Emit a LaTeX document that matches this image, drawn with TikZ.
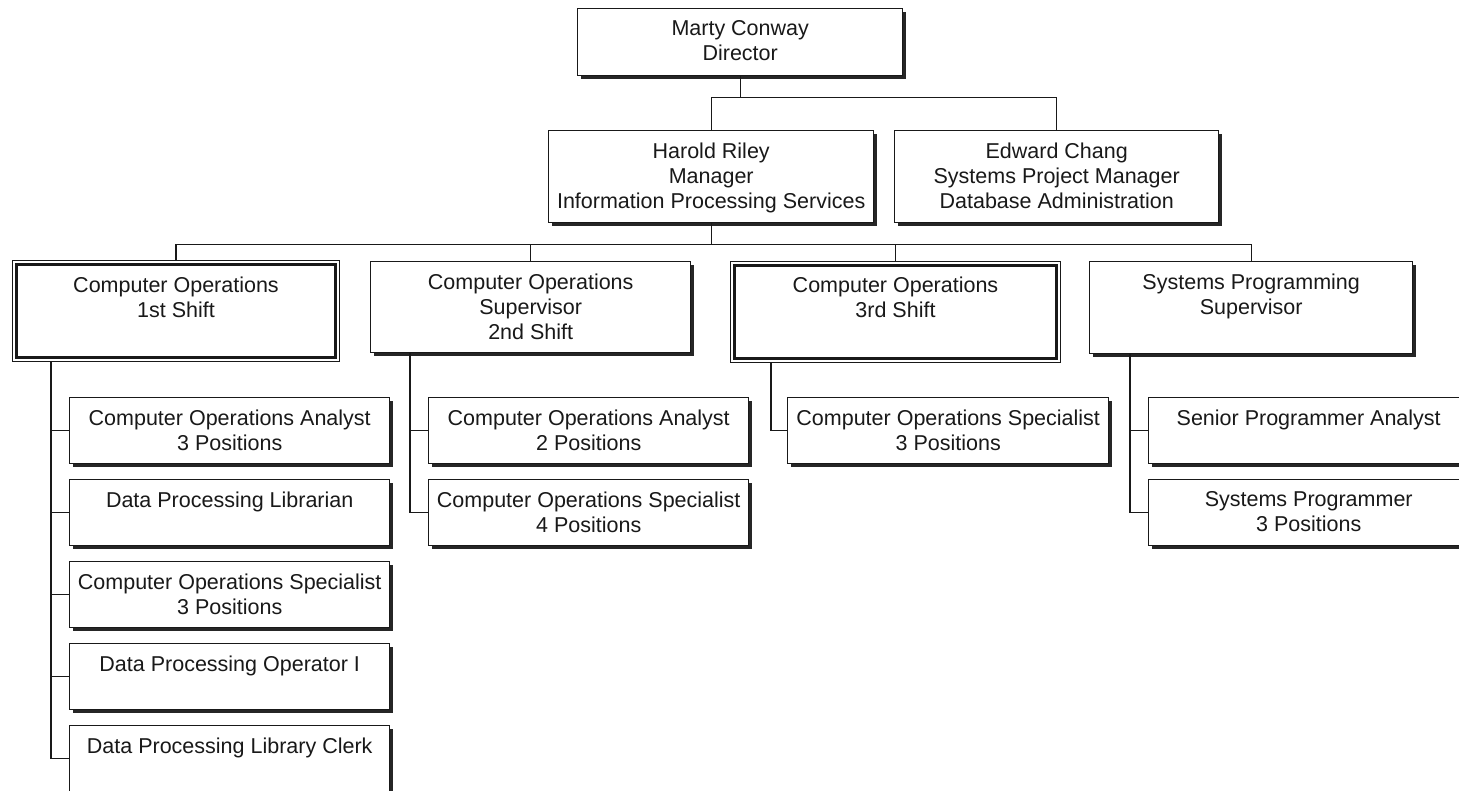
\documentclass[tikz,border=0pt]{standalone}
\usepackage{fontspec}
\setmainfont{Liberation Sans}
\usetikzlibrary{shadows}
\begin{document}
\begin{tikzpicture}[x=1pt,y=-1pt,
  box/.style={draw=black!90, line width=1.4pt, fill=white, rectangle, inner sep=0pt, anchor=north west,
     drop shadow={shadow xshift=3.2pt, shadow yshift=-3.2pt, opacity=1, fill=black!85}},
  dbl/.style={draw=black!90, line width=1pt, fill=white, rectangle, inner sep=0pt, anchor=north west,
     path picture={\draw[line width=2.6pt, black!90]
        ([shift={(3.9pt,-3.9pt)}]path picture bounding box.north west) rectangle
        ([shift={(-3.9pt,3.9pt)}]path picture bounding box.south east);}},
  txt/.style={font=\fontsize{21.5}{25}\selectfont, align=center, anchor=north, inner sep=0pt, text=black!90},
  conn/.style={draw=black!90, line width=1.4pt}
]
\useasboundingbox (0,0) rectangle (1459,790);

% boxes
\node[box, minimum width=325, minimum height=67] (dir) at (577,8) {};
\node[box, minimum width=325, minimum height=92] (harold) at (548,130) {};
\node[box, minimum width=324, minimum height=92] (edward) at (894,130) {};
\node[dbl, minimum width=327, minimum height=101] (op1) at (12,260) {};
\node[box, minimum width=320, minimum height=91] (op2) at (370,261) {};
\node[dbl, minimum width=330, minimum height=101] (op3) at (730,261) {};
\node[box, minimum width=323, minimum height=92] (sp) at (1089,261) {};

\node[box, minimum width=320, minimum height=66] (c1a) at (69,397) {};
\node[box, minimum width=320, minimum height=66] (c1b) at (69,479) {};
\node[box, minimum width=320, minimum height=66] (c1c) at (69,561) {};
\node[box, minimum width=320, minimum height=66] (c1d) at (69,643) {};
\node[box, minimum width=320, minimum height=66] (c1e) at (69,725) {};
\node[box, minimum width=320, minimum height=66] (c2a) at (428,397) {};
\node[box, minimum width=320, minimum height=66] (c2b) at (428,479) {};
\node[box, minimum width=321, minimum height=66] (c3a) at (787,397) {};
\node[box, minimum width=320, minimum height=66] (c4a) at (1148,397) {};
\node[box, minimum width=320, minimum height=66] (c4b) at (1148,479) {};

% texts
\node[txt] (tdir) at ([yshift=-12.5pt]dir.north) {Marty Conway\\Director};
\node[txt] (tharold) at ([yshift=-12.5pt]harold.north) {Harold Riley\\Manager\\Information Processing Services};
\node[txt] (tedward) at ([yshift=-12.5pt]edward.north) {Edward Chang\\Systems Project Manager\\Database Administration};
\node[txt] (top1) at ([yshift=-16.5pt]op1.north) {Computer Operations\\1st Shift};
\node[txt] (top2) at ([yshift=-12.5pt]op2.north) {Computer Operations\\Supervisor\\2nd Shift};
\node[txt] (top3) at ([yshift=-16pt]op3.north) {Computer Operations\\3rd Shift};
\node[txt] (tsp) at ([yshift=-12.5pt]sp.north) {Systems Programming\\Supervisor};
\node[txt] (tc1a) at ([yshift=-12.5pt]c1a.north) {Computer Operations Analyst\\3 Positions};
\node[txt] (tc1b) at ([yshift=-12.5pt]c1b.north) {Data Processing Librarian};
\node[txt] (tc1c) at ([yshift=-12.5pt]c1c.north) {Computer Operations Specialist\\3 Positions};
\node[txt] (tc1d) at ([yshift=-12.5pt]c1d.north) {Data Processing Operator I};
\node[txt] (tc1e) at ([yshift=-12.5pt]c1e.north) {Data Processing Library Clerk};
\node[txt] (tc2a) at ([yshift=-12.5pt]c2a.north) {Computer Operations Analyst\\2 Positions};
\node[txt] (tc2b) at ([yshift=-12.5pt]c2b.north) {Computer Operations Specialist\\4 Positions};
\node[txt] (tc3a) at ([yshift=-12.5pt]c3a.north) {Computer Operations Specialist\\3 Positions};
\node[txt] (tc4a) at ([yshift=-12.5pt]c4a.north) {Senior Programmer Analyst};
\node[txt] (tc4b) at ([yshift=-12.5pt]c4b.north) {Systems Programmer\\3 Positions};

% connectors: level 1
\draw[conn] (dir.south) -- ++(0,21) coordinate (j0);
\draw[conn] (harold.north) |- (j0) -| (edward.north);
% level 2
\draw[conn] (harold.south) -- ++(0,21) coordinate (j1);
\draw[conn] (op1.north) |- (j1) -| (sp.north);
\draw[conn] (op2.north) -- (op2.north |- j1);
\draw[conn] (op3.north) -- (op3.north |- j1);

% buses
\coordinate (b1) at ([xshift=39pt]op1.south west);
\coordinate (b2) at ([xshift=40pt]op2.south west);
\coordinate (b3) at ([xshift=41pt]op3.south west);
\coordinate (b4) at ([xshift=41pt]sp.south west);

\draw[conn] (b1) |- (c1e.west);
\foreach \c in {c1a,c1b,c1c,c1d} \draw[conn] (b1 |- \c.west) -- (\c.west);
\draw[conn] (b2) |- (c2b.west);
\draw[conn] (b2 |- c2a.west) -- (c2a.west);
\draw[conn] (b3) |- (c3a.west);
\draw[conn] (b4) |- (c4b.west);
\draw[conn] (b4 |- c4a.west) -- (c4a.west);
\end{tikzpicture}
\end{document}
